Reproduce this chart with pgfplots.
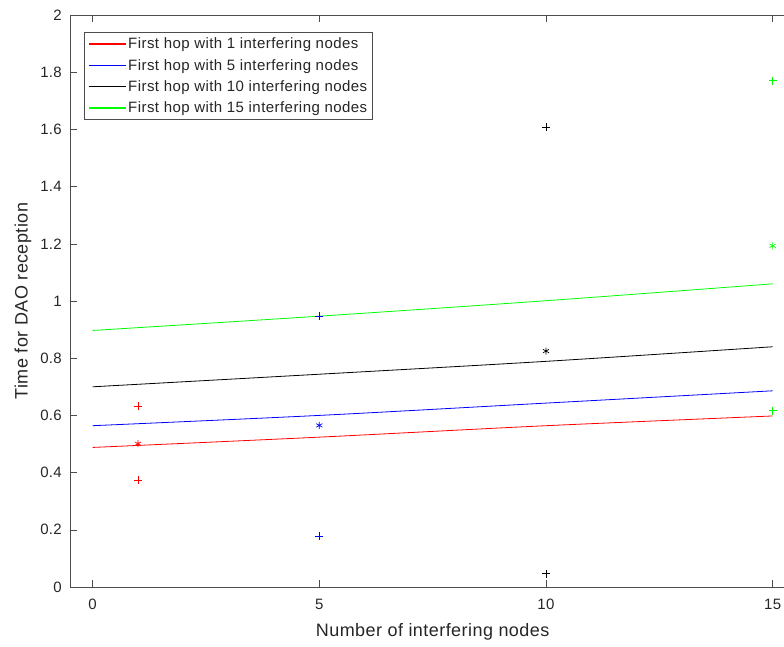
\documentclass[border=0pt]{standalone}
\usepackage{fontspec}
\setmainfont{Liberation Sans}
\newfontfamily\labfont[LetterSpace=2.5]{Liberation Sans}
\newfontfamily\legfont[LetterSpace=3]{Liberation Sans}
\newfontfamily\tickfont[LetterSpace=2]{Liberation Sans}
\usepackage{pgfplots}
\pgfplotsset{compat=1.18}
\definecolor{axgray}{gray}{0.3}
\definecolor{txt}{gray}{0.15}
\newcommand{\labsize}{\labfont\fontsize{18pt}{21pt}\selectfont}
\newcommand{\ticksize}{\tickfont\fontsize{15pt}{18pt}\selectfont}
\newcommand{\legsize}{\legfont\fontsize{15pt}{18pt}\selectfont}
\begin{document}
\begin{tikzpicture}[x=1pt,y=1pt]
\useasboundingbox (0,0) rectangle (784,646);
\begin{axis}[
  at={(70pt,59pt)}, anchor=south west,
  scale only axis, width=725.3pt, height=572pt,
  xmin=-0.5, xmax=15.5, ymin=0, ymax=2,
  xtick={0,5,10,15}, ytick={0,0.2,...,2.01},
  /pgf/number format/assume math mode=true,
  /pgf/number format/fixed,
  tick align=inside, major tick length=7pt,
  every tick/.style={axgray, line width=0.6pt},
  axis line style={axgray, line width=0.8pt},
  xticklabel style={font=\ticksize, text=txt, inner sep=0pt},
  yticklabel style={font=\ticksize, text=txt, inner sep=0pt},
  yticklabel shift=8pt, xticklabel shift=12pt,
  xlabel={\labsize Number of interfering nodes},
  ylabel={\labsize Time for DAO reception},
  every axis x label/.style={at={(axis description cs:0.5,0)}, anchor=center, yshift=-45pt, text=txt},
  every axis y label/.style={at={(axis description cs:0,0.5)}, anchor=center, rotate=90, yshift=47pt, text=txt},
  legend style={at={(axis description cs:0.0193,0.9703)}, anchor=north west,
    draw=axgray, line width=0.6pt, fill=white, font=\legsize, text=txt,
    inner sep=3.5pt, row sep=5pt, cells={anchor=west}},
  legend image code/.code={\draw[#1, line width=1.4pt] (0pt,0pt) -- (37pt,0pt);},
  legend cell align=left,
]
\addplot[red, line width=0.8pt, smooth] coordinates {(0,0.488) (5,0.524) (10,0.564) (15,0.598)};
\addplot[blue, line width=0.8pt, smooth] coordinates {(0,0.564) (5,0.600) (10,0.643) (15,0.686)};
\addplot[black, line width=0.8pt, smooth] coordinates {(0,0.700) (5,0.744) (10,0.789) (15,0.840)};
\addplot[green, line width=0.8pt, smooth] coordinates {(0,0.897) (5,0.947) (10,1.001) (15,1.060)};
\legend{First hop with 1 interfering nodes, First hop with 5 interfering nodes, First hop with 10 interfering nodes, First hop with 15 interfering nodes}
% markers
\addplot[red, only marks, mark=+, mark size=4pt, line width=0.6pt, forget plot] coordinates {(1,0.632) (1,0.373)};
\addplot[red, only marks, mark=asterisk, mark size=3.5pt, line width=0.7pt, forget plot] coordinates {(1,0.501)};
\addplot[blue, only marks, mark=+, mark size=4pt, line width=0.6pt, forget plot] coordinates {(5,0.947) (5,0.179)};
\addplot[blue, only marks, mark=asterisk, mark size=3.5pt, line width=0.7pt, forget plot] coordinates {(5,0.565)};
\addplot[black, only marks, mark=+, mark size=4pt, line width=0.6pt, forget plot] coordinates {(10,1.607) (10,0.047)};
\addplot[black, only marks, mark=asterisk, mark size=3.5pt, line width=0.7pt, forget plot] coordinates {(10,0.825)};
\addplot[green, only marks, mark=+, mark size=4pt, line width=0.6pt, forget plot] coordinates {(15,1.770) (15,0.617)};
\addplot[green, only marks, mark=asterisk, mark size=3.5pt, line width=0.7pt, forget plot] coordinates {(15,1.193)};
\end{axis}
\end{tikzpicture}
\end{document}
